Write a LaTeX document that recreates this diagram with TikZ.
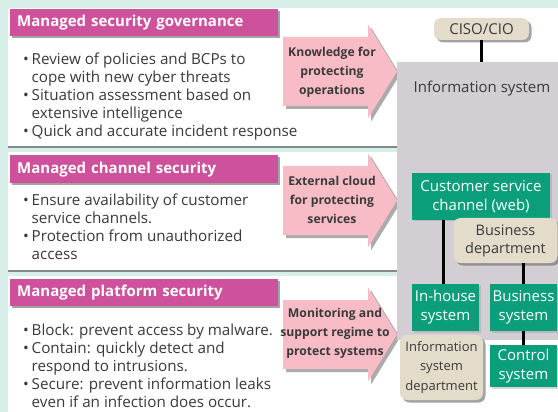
\documentclass[tikz,border=0pt]{standalone}
\usepackage{fontspec}
\setmainfont{Open Sans}
\usetikzlibrary{shadows}
\definecolor{mint}{HTML}{D8EEE8}
\definecolor{magbar}{HTML}{CD519B}
\definecolor{pinkarrow}{HTML}{F8BCC6}
\definecolor{sysgreen}{HTML}{0A9E7B}
\definecolor{beige}{HTML}{E4DCCB}
\definecolor{lilacgray}{HTML}{D3CDD4}
\definecolor{txt}{HTML}{3A3A3A}
\newcommand{\bul}{\makebox[8.5pt][l]{\textbullet}}
\newcommand{\ind}{\hspace*{8.5pt}}

\begin{document}
\begin{tikzpicture}[x=1pt,y=-1pt]
        \tikzstyle{every node}=[text=txt,inner sep=0pt]
        \tikzstyle{panel}=[fill=white,anchor=north west,minimum width=389pt,drop shadow={shadow xshift=0pt,shadow yshift=-1.5pt,fill=black!70,opacity=.6}]
        \tikzstyle{header}=[fill=magbar,anchor=north west,text width=254pt,inner xsep=7pt,align=left,text=white,font=\fontsize{15}{17}\selectfont\bfseries,drop shadow={shadow xshift=2pt,shadow yshift=-2pt,fill=black!60,opacity=.6}]
        \tikzstyle{body}=[anchor=west,align=left,font=\fontsize{15.2}{18}\selectfont]
        \tikzstyle{arrowtext}=[align=center,font=\fontsize{12.2}{19}\selectfont\bfseries]
        \tikzstyle{arrowshadow}=[drop shadow={shadow xshift=3pt,shadow yshift=-3pt,fill=black!55,opacity=.6}]
        \tikzstyle{sys}=[fill=sysgreen,text=white,align=center,minimum width=67pt,minimum height=47pt,font=\fontsize{15}{19}\selectfont,drop shadow={shadow xshift=1.5pt,shadow yshift=-1.5pt,fill=black!40,opacity=.4}]
        \tikzstyle{dept}=[fill=beige,rounded corners=7pt,align=center,font=\fontsize{14.5}{18}\selectfont,drop shadow={shadow xshift=2.5pt,shadow yshift=-2.5pt,fill=black!60,opacity=.6}]
        \tikzstyle{link}=[line width=2.5pt,black]

        \useasboundingbox (0,0) rectangle (558,412);
        \fill[mint] (0,0) rectangle (558,412);

        % left panels
        \node[panel,minimum height=138pt] (panelgov) at (8,8) {};
        \node[panel,minimum height=118pt] (panelchan) at (8,152) {};
        \node[panel,minimum height=136pt] (panelplat) at (8,276) {};
        \fill[white] (397,8) rectangle (558,412);

        \node[header,minimum height=27pt] (hdrgov) at (10,9) {Managed security governance};
        \node[header,minimum height=28pt] (hdrchan) at (10,155) {Managed channel security};
        \node[header,minimum height=27pt] (hdrplat) at (10,279) {Managed platform security};

        \node[body] (txtgov) at (23,97) {\bul Review of policies and BCPs to\\ \ind cope with new cyber threats\\ \bul Situation assessment based on\\ \ind extensive intelligence\\ \bul Quick and accurate incident response};
        \node[body] (txtchan) at (23,227) {\bul Ensure availability of customer\\ \ind service channels.\\ \bul Protection from unauthorized\\ \ind access};
        \node[body] (txtplat) at (23,366) {\bul Block: prevent access by malware.\\ \bul Contain: quickly detect and\\ \ind respond to intrusions.\\ \bul Secure: prevent information leaks\\ \ind even if an infection does occur.};

        % pink arrows
        \foreach \yc in {71.5,200.5,334.5}
            \fill[pinkarrow,arrowshadow] (283,\yc-34.5) -- (368,\yc-34.5) -- (368,\yc-47) -- (397,\yc) -- (368,\yc+47) -- (368,\yc+34.5) -- (283,\yc+34.5) -- cycle;
        \node[arrowtext] (knowgov) at (332,72) {Knowledge for\\protecting\\operations};
        \node[arrowtext] (cloudchan) at (332,200) {External cloud\\for protecting\\services};
        \node[arrowtext] (monplat) at (335,333) {Monitoring and\\support regime to\\protect systems};

        % information system
        \node[fill=lilacgray,minimum width=161pt,minimum height=278pt] (infosys) at (477.5,201) {};
        \node[font=\fontsize{15}{18}\selectfont] (infolabel) at (482,89) {Information system};
        \node[dept,minimum width=95pt,minimum height=22pt,font=\fontsize{15}{18}\selectfont] (ciso) at (481.5,29) {CISO/CIO};
        \node[sys,minimum width=138pt] (web) at (481,196.5) {Customer service\\channel (web)};
        \node[dept,minimum width=104pt,minimum height=45pt] (bizdept) at (505.5,240.5) {Business\\department};
        \node[sys] (inhouse) at (445.5,307.5) {In-house\\system};
        \node[sys] (bizsys) at (523.5,307.5) {Business\\system};
        \node[sys,minimum height=42pt] (control) at (523.5,366) {Control\\system};
        \node[dept,minimum width=83pt,minimum height=65pt,font=\fontsize{13}{19.5}\selectfont] (isdept) at (441.5,367.5) {Information\\system\\department};

        \draw[link] (ciso) -- (ciso |- infosys.north);
        \draw[link] ([xshift=-2pt]inhouse.north) -- ([xshift=-2pt]inhouse.north |- web.south);
        \draw[link] (bizsys.north) -- (bizsys.north |- bizdept.south);
        \draw[link] (bizsys) -- (control);
    \end{tikzpicture}
\end{document}
